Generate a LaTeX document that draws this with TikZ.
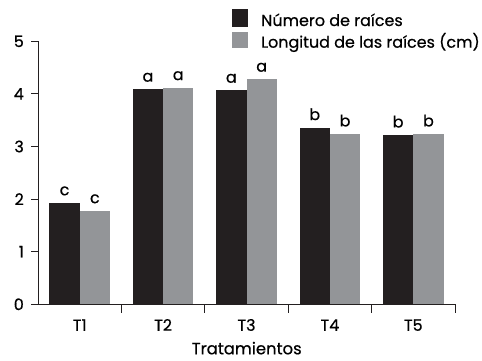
\documentclass[tikz,border=0pt]{standalone}
\usepackage{fontspec}
\setmainfont{Poppins}[FakeBold=0.6]
\usetikzlibrary{positioning}
\definecolor{barblack}{HTML}{231F20}
\definecolor{bargray}{HTML}{939598}
\tikzset{
    axis/.style={line width=0.9bp, draw=barblack},
    ticklabel/.style={inner sep=0pt, font=\fontsize{16}{16}\selectfont},
    siglabel/.style={inner sep=0pt, anchor=base, font=\fontsize{16}{16}\selectfont},
    legendtext/.style={inner sep=0pt, anchor=base west, font=\fontsize{16}{16}\selectfont},
}
\newcommand{\tikzbarpair}[5]{%
    \coordinate (#1base) at (#2, 0);
    \fill[barblack] (#1base) rectangle ++(30.3, {#3*52.6}) coordinate (#1topone);
    \fill[bargray] ([xshift=30.3bp]#1base) rectangle ++(30.3, {#4*52.6}) coordinate (#1toptwo);
    \node[siglabel] (#1sigone) at ([xshift=-15.15bp, yshift=7.5bp]#1topone) {#5};
    \node[siglabel] (#1sigtwo) at ([xshift=-15.15bp, yshift=7.5bp]#1toptwo) {#5};
}
\newcommand{\tikzytick}[1]{%
    \coordinate (ytick#1) at (0, {#1*52.6});
    \draw[axis] (ytick#1) -- ++(-7, 0) coordinate (ytickend#1);
    \node[ticklabel, anchor=east] (ylabel#1) at ([xshift=-7bp]ytickend#1) {#1};
}
\begin{document}
\begin{tikzpicture}[x=1bp, y=1bp]
            \useasboundingbox (-38, -55.7) rectangle (444, 304.3);

            % bars
            \tikzbarpair{tone}{11.4}{1.93}{1.78}{c}
            \tikzbarpair{ttwo}{94.8}{4.09}{4.12}{a}
            \tikzbarpair{tthree}{178.2}{4.07}{4.28}{a}
            \tikzbarpair{tfour}{261.6}{3.36}{3.24}{b}
            \tikzbarpair{tfive}{345}{3.22}{3.24}{b}

            % axes
            \coordinate (O) at (0, 0);
            \coordinate (ytop) at (0, 263);
            \coordinate (xend) at (417, 0);
            \draw[axis] (ytop) -- (O) -- (xend);

            \tikzytick{0}
            \tikzytick{1}
            \tikzytick{2}
            \tikzytick{3}
            \tikzytick{4}
            \tikzytick{5}

            \draw[axis] (83.4, 0) -- ++(0, -9);
            \draw[axis] (166.8, 0) -- ++(0, -9);
            \draw[axis] (250.2, 0) -- ++(0, -9);
            \draw[axis] (333.6, 0) -- ++(0, -9);
            \draw[axis] (xend) -- ++(0, -9);

            \node[siglabel] (xlabelone) at (41.7, -26.5) {T1};
            \node[siglabel] (xlabeltwo) at (125.1, -26.5) {T2};
            \node[siglabel] (xlabelthree) at (208.5, -26.5) {T3};
            \node[siglabel] (xlabelfour) at (291.9, -26.5) {T4};
            \node[siglabel] (xlabelfive) at (375.3, -26.5) {T5};
            \node[siglabel, font=\fontsize{16.5}{16}\selectfont] (xtitle) at (208.7, -50) {Tratamientos};

            % legend
            \fill[barblack] (193.7, 277.6) rectangle ++(16, 17.7) coordinate (legendone);
            \fill[bargray] (193.7, 256.6) rectangle ++(16, 15.7) coordinate (legendtwo);
            \node[legendtext] (legendtextone) at (223, 278.3) {Número de raíces};
            \node[legendtext] (legendtexttwo) at (223, 256.6) {Longitud de las raíces (cm)};

        \end{tikzpicture}
\end{document}
